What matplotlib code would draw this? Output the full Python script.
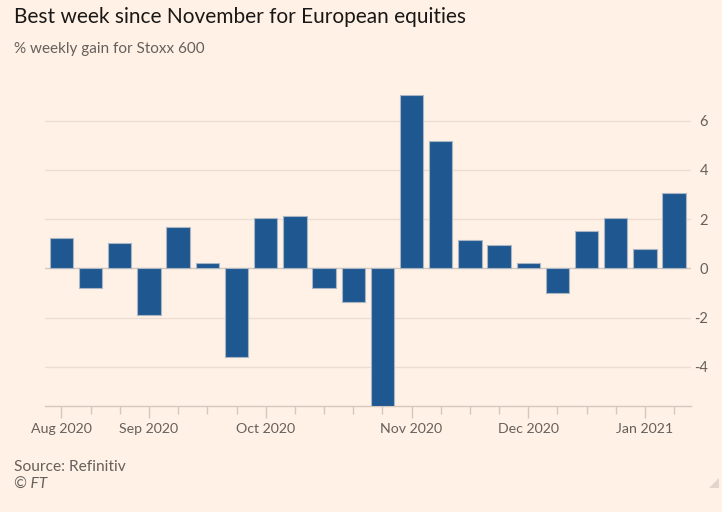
import matplotlib
matplotlib.use("Agg")
import matplotlib.pyplot as plt
from matplotlib.patches import Polygon

# ---- data ----
weeks = list(range(22))
gains = [1.25, -0.82, 1.02, -1.88, 1.69, 0.22, -3.61, 2.03, 2.12, -0.78, -1.36, -5.58,
         7.06, 5.16, 1.16, 0.95, 0.22, -0.99, 1.50, 2.04, 0.78, 3.06]
month_idx = [0, 3, 7, 12, 16, 20]
month_labels = ["Aug 2020", "Sep 2020", "Oct 2020", "Nov 2020", "Dec 2020", "Jan 2021"]
y_ticks = [-4, -2, 0, 2, 4, 6]

BG = "#FFF1E5"
BAR = "#1F5790"
GRID = "#EBDDD2"
AXIS = "#D4C8BE"
TXT = "#66605C"
FONT = "Lato"

W, H = 722, 512
fig = plt.figure(figsize=(W / 100, H / 100), dpi=100, facecolor=BG)

left, right = 45, 691
bottom_px = 405.6
ymin, ymax = min(gains), 7.5
ppu = 24.6
top_px = 268.3 - ymax * ppu
ax = fig.add_axes([left / W, 1 - bottom_px / H, (right - left) / W, (bottom_px - top_px) / H])
ax.set_facecolor(BG)

ax.bar(weeks, gains, width=0.8, color=BAR, edgecolor="#A9B6C4", linewidth=0.8, zorder=3)
ax.set_xlim(-0.565, 21.58)
ax.set_ylim(ymin, ymax)

for s in ["top", "left", "right"]:
    ax.spines[s].set_visible(False)
ax.spines["bottom"].set_color(AXIS)
ax.spines["bottom"].set_linewidth(1.0)

ax.axhline(0, color=AXIS, linewidth=1.0, zorder=2)
for y in y_ticks:
    if y != 0:
        ax.axhline(y, color=GRID, linewidth=1.0, zorder=1)

ax.yaxis.tick_right()
ax.set_yticks(y_ticks)
ax.set_yticklabels([str(v) for v in y_ticks], fontfamily=FONT, fontsize=10.5, color=TXT, ha="right")
ax.tick_params(axis="y", length=0, pad=17 * 0.72)

ax.set_xticks(month_idx)
ax.set_xticklabels(month_labels, fontfamily=FONT, fontsize=10.2, color=TXT)
ax.set_xticks([i for i in weeks if i not in month_idx], minor=True)
ax.tick_params(axis="x", which="major", length=12 * 0.72, width=1, color=AXIS, pad=4)
ax.tick_params(axis="x", which="minor", length=8 * 0.72, width=1, color=AXIS)

fig.text(14 / W, 1 - 17 / H, "Best week since November for European equities",
         fontfamily=FONT, fontsize=15, color="#1A1817", va="center", ha="left")
fig.text(14 / W, 1 - 49 / H, "% weekly gain for Stoxx 600",
         fontfamily=FONT, fontsize=11.0, color=TXT, va="center", ha="left")
fig.text(14 / W, 1 - 467 / H, "Source: Refinitiv",
         fontfamily=FONT, fontsize=11.2, color=TXT, va="center", ha="left")
fig.text(14 / W, 1 - 485 / H, "© FT",
         fontfamily=FONT, fontsize=11.2, color=TXT, va="center", ha="left", style="italic")

tri = Polygon([[(709) / W, 1 - 488 / H], [(719) / W, 1 - 488 / H], [(719) / W, 1 - 478 / H]],
              closed=True, transform=fig.transFigure, facecolor="#E2D6CC", edgecolor="none")
fig.patches.append(tri)

fig.savefig("out.png", dpi=100, facecolor=BG)
